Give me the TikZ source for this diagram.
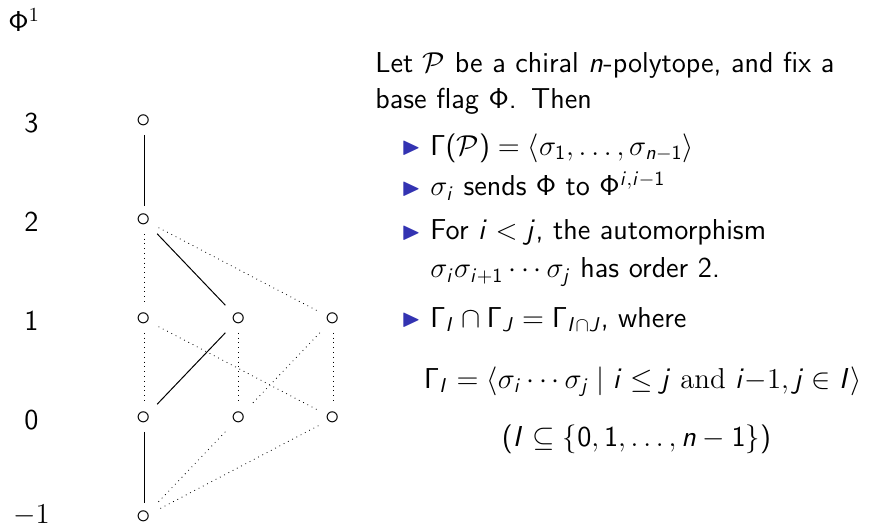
\documentclass[tikz,border=0pt]{standalone}
\usepackage{amssymb}
\usetikzlibrary{positioning}
\definecolor{structcolor}{rgb}{0.2,0.2,0.7}
% sans math in the beamer manner
\SetSymbolFont{operators}{normal}{OT1}{cmss}{m}{n}
\DeclareSymbolFont{sfletters}{OT1}{cmss}{m}{sl}
\DeclareMathSymbol{i}{\mathalpha}{sfletters}{`i}
\DeclareMathSymbol{j}{\mathalpha}{sfletters}{`j}
\DeclareMathSymbol{n}{\mathalpha}{sfletters}{`n}
\DeclareMathSymbol{I}{\mathalpha}{sfletters}{`I}
\DeclareMathSymbol{J}{\mathalpha}{sfletters}{`J}
\DeclareMathAlphabet{\mathserif}{OT1}{cmr}{m}{n}

\begin{document}
\begin{tikzpicture}[
    font=\sffamily\fontsize{14.4}{17.75}\selectfont,
    node distance=49.5pt and 47.25pt, on grid,
    flag/.style={inner sep=3.5pt},
    rank/.style={inner sep=0pt, yshift=-1pt},
    txt/.style={inner sep=0pt, anchor=base west, align=left},
    bul/.style={inner sep=0pt, anchor=base west, text=structcolor,
                font=\fontsize{12.5}{12.5}\selectfont, yshift=0.4pt},
    adj/.style={line width=0.5pt},
    pair/.style={dotted, line width=0.4pt}
]
\useasboundingbox (0,0) rectangle (442pt,263pt);
% Flags by rank
\node[flag] (f3) at (72pt,202.5pt) {$\circ$};
\node[flag, below=of f3] (f2) {$\circ$};
\node[flag, below=of f2] (f1a) {$\circ$};
\node[flag, right=of f1a] (f1b) {$\circ$};
\node[flag, right=of f1b] (f1c) {$\circ$};
\node[flag, below=of f1a] (f0a) {$\circ$};
\node[flag, right=of f0a] (f0b) {$\circ$};
\node[flag, right=of f0b] (f0c) {$\circ$};
\node[flag, below=of f0a] (fm) {$\circ$};
% Rank labels
\node[rank, left=56.25pt of f3] (r3) {3};
\node[rank, left=56.25pt of f2] (r2) {2};
\node[rank, left=56.25pt of f1a] (r1) {1};
\node[rank, left=56.25pt of f0a] (r0) {0};
\node[rank, left=56.25pt of fm, yshift=2pt] (rm) {$-\mathserif{1}$};
\node[inner sep=0pt, anchor=base west] (phi) at (4pt,247pt) {$\Phi^{\mathserif{1}}$};
% Edges
\draw[adj] (f3) -- (f2);
\draw[adj] (f2) -- (f1b);
\draw[adj] (f0a) -- (f1b);
\draw[adj] (f0a) -- (fm);
\foreach \a/\b in {f2/f1a, f2/f1c, f1a/f0a, f1a/f0c, f1b/f0b,
                   f1c/f0b, f1c/f0c, f0b/fm, f0c/fm}
    \draw[pair] (\a) -- (\b);
% Text
\node[txt, text width=240pt] (intro) at (187.5pt,226.6pt)
    {Let $\mathcal{P}$ be a chiral $n$-polytope, and fix a\\ base flag $\Phi$. Then};
\node[bul] (b1) at (200.5pt,185.5pt) {$\blacktriangleright$};
\node[txt] (i1) at (215pt,185.5pt)
    {$\Gamma(\mathcal{P}) = \langle\sigma_1,\ldots,\sigma_{n-1}\rangle$};
\node[bul] (b2) at (200.5pt,165pt) {$\blacktriangleright$};
\node[txt] (i2) at (215pt,165pt) {$\sigma_i$ sends $\Phi$ to $\Phi^{i,i-1}$};
\node[bul] (b3) at (200.5pt,143pt) {$\blacktriangleright$};
\node[txt, text width=220pt, font=\sffamily\fontsize{14.4}{19}\selectfont]
    (i3) at (215pt,143pt)
    {For $i<j$, the automorphism\\ $\sigma_i\sigma_{i+1}\cdots\sigma_j$ has order 2.};
\node[bul] (b4) at (200.5pt,99.5pt) {$\blacktriangleright$};
\node[txt] (i4) at (215pt,99.5pt) {$\Gamma_I\cap\Gamma_J=\Gamma_{I\cap J}$, where};
\node[inner sep=0pt, anchor=base] (d1) at (321.5pt,69pt)
    {$\Gamma_I = \langle\sigma_i\cdots\sigma_j \mid i\le j \textrm{ and } i{-}\mathserif{1}, j\in I\rangle$};
\node[inner sep=0pt, anchor=base] (d2) at (318.25pt,40pt)
    {$(I\subseteq\{0,1,\ldots,n-1\})$};
\end{tikzpicture}
\end{document}
